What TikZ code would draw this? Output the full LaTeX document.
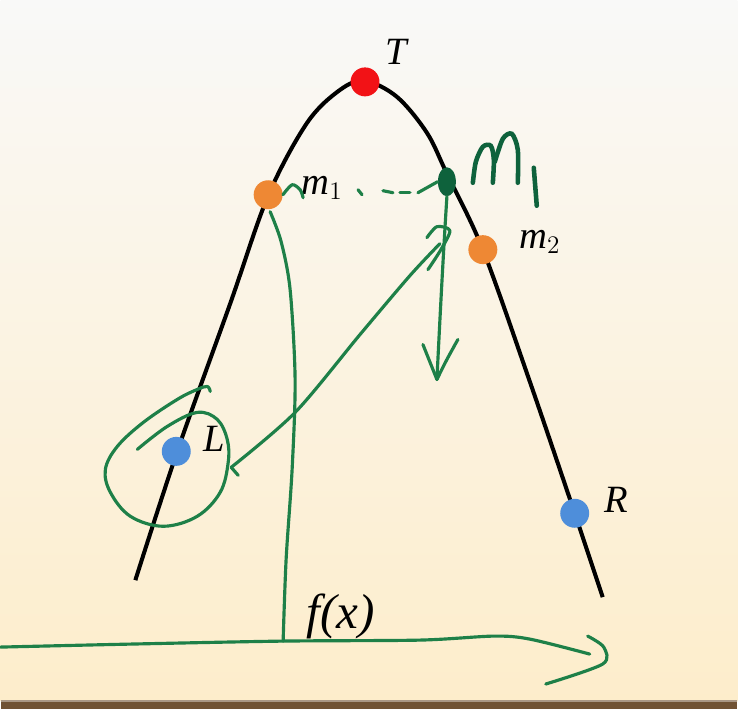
\documentclass[tikz,border=0pt]{standalone}
\usepackage{fontspec}
\setmainfont{Liberation Serif}
\definecolor{penGreen}{RGB}{30,128,72}
\definecolor{inkGreen}{RGB}{14,98,60}
\definecolor{dotRed}{RGB}{242,18,22}
\definecolor{dotOrange}{RGB}{238,136,52}
\definecolor{dotBlue}{RGB}{78,142,218}
\definecolor{paperTop}{RGB}{249,249,248}
\definecolor{paperMid}{RGB}{252,246,230}
\definecolor{paperBot}{RGB}{253,237,203}
\definecolor{floorBrown}{RGB}{112,82,52}
\usetikzlibrary{positioning, calc, shapes.geometric}

\tikzset{
	dot/.style={circle, inner sep=0pt, minimum size=0.58cm},
	lbl/.style={inner sep=0pt, font=\fontsize{22}{26}\selectfont\itshape},
	pen/.style={penGreen, line width=1.8pt, line cap=round, line join=round},
}

\begin{document}
\begin{tikzpicture}[x=0.02cm, y=-0.02cm]
			% paper and floor
			\shade[top color=paperTop, middle color=paperMid, bottom color=paperBot] (0,0) rectangle (738,702);
			\fill[floorBrown] (0,702) rectangle (738,710);
			\draw[floorBrown!60!white, line width=0.6pt] (0,702) -- (738,702);
			\useasboundingbox (0,0) rectangle (738,710);
			
			% the curve
			\draw[black, line width=2.3pt] plot[smooth, tension=0.55] coordinates {(135,581) (177,452) (230,304) (268,196) (307,123) (340,90) (365,81) (397,97) (427,133) (447,174) (483,250) (530,382) (575,514) (603,598)};
			
			% points on it
			\node[dot, fill=dotRed] (T) at (365,82) {};
			\node[dot, fill=dotOrange] (m1) at (268,195) {};
			\node[dot, fill=dotOrange] (m2) at (483,250) {};
			\node[dot, fill=dotBlue] (L) at (176,452) {};
			\node[dot, fill=dotBlue] (R) at (575,514) {};
			
			\node[lbl] (lblT) at (396,52) {T};
			\node[lbl] (lblm1) at (322,188) {m$_1$};
			\node[lbl] (lblm2) at (540,242) {m$_2$};
			\node[lbl] (lblL) at (214,439) {L};
			\node[lbl] (lblR) at (617,501) {R};
			\node[lbl, font=\fontsize{28}{32}\selectfont\itshape] (lblf) at (341,617) {f(x)};
			
			% handwritten notes
			\node[ellipse, fill=inkGreen, inner sep=0pt, minimum width=0.36cm, minimum height=0.58cm] (M1pt) at (447,182) {};
			\draw[inkGreen, line width=2.6pt, line cap=round] plot[smooth] coordinates {(473,183) (476,162) (483,147) (491,146) (494,160) (493,183)};
			\draw[inkGreen, line width=2.6pt, line cap=round] plot[smooth] coordinates {(495,162) (503,139) (512,134) (518,150) (518,183)};
			\draw[inkGreen, line width=2.6pt, line cap=round] (534,168) -- (537,206);
			
			\draw[pen] plot[smooth] coordinates {(m1.east) (292,185) (300,190) (303,198)};
			\draw[pen] (358,190) -- (362,195);
			\draw[pen] (383,191) -- (393,193);
			\draw[pen] (400,193) -- (410,193);
			\draw[pen] (418,193) -- (M1pt.west);
			
			\coordinate (drop) at (437,380);
			\draw[pen] (M1pt.south) .. controls (443,260) and (440,320) .. (drop);
			\draw[pen] (423,345) -- (drop);
			\draw[pen] plot[smooth] coordinates {(458,340) (447,360) (drop)};
			
			\coordinate (hook) at (440,244);
			\coordinate (ring) at (231,468);
			\draw[pen] plot[smooth] coordinates {(hook) (410,276) (360,335) (295,413) (ring)};
			\draw[pen] (ring) -- (238,476);
			\draw[pen] plot[smooth] coordinates {(427,238) (437,227) (450,231) (441,250) (428,270)};
			
			\draw[pen] plot[smooth, tension=0.6] coordinates {(137,450) (167,427) (197,413) (217,420) (227,440) (228,463) (220,493) (197,517) (163,527) (130,517) (110,493) (105,470) (117,447) (143,423) (177,400) (197,390) (207,387) (210,392)};
			
			\coordinate (foot) at (283,642);
			\draw[pen] plot[smooth] coordinates {(270,212) (281,242) (290,290) (295,380) (292,470) (286,560) (foot)};
			\draw[pen] plot[smooth, tension=0.5] coordinates {(0,648) (130,645) (foot) (420,641) (494,637) (530,640) (590,655)};
			\draw[pen] plot[smooth] coordinates {(588,637) (604,648) (603,665) (546,685)};
		\end{tikzpicture}
\end{document}
